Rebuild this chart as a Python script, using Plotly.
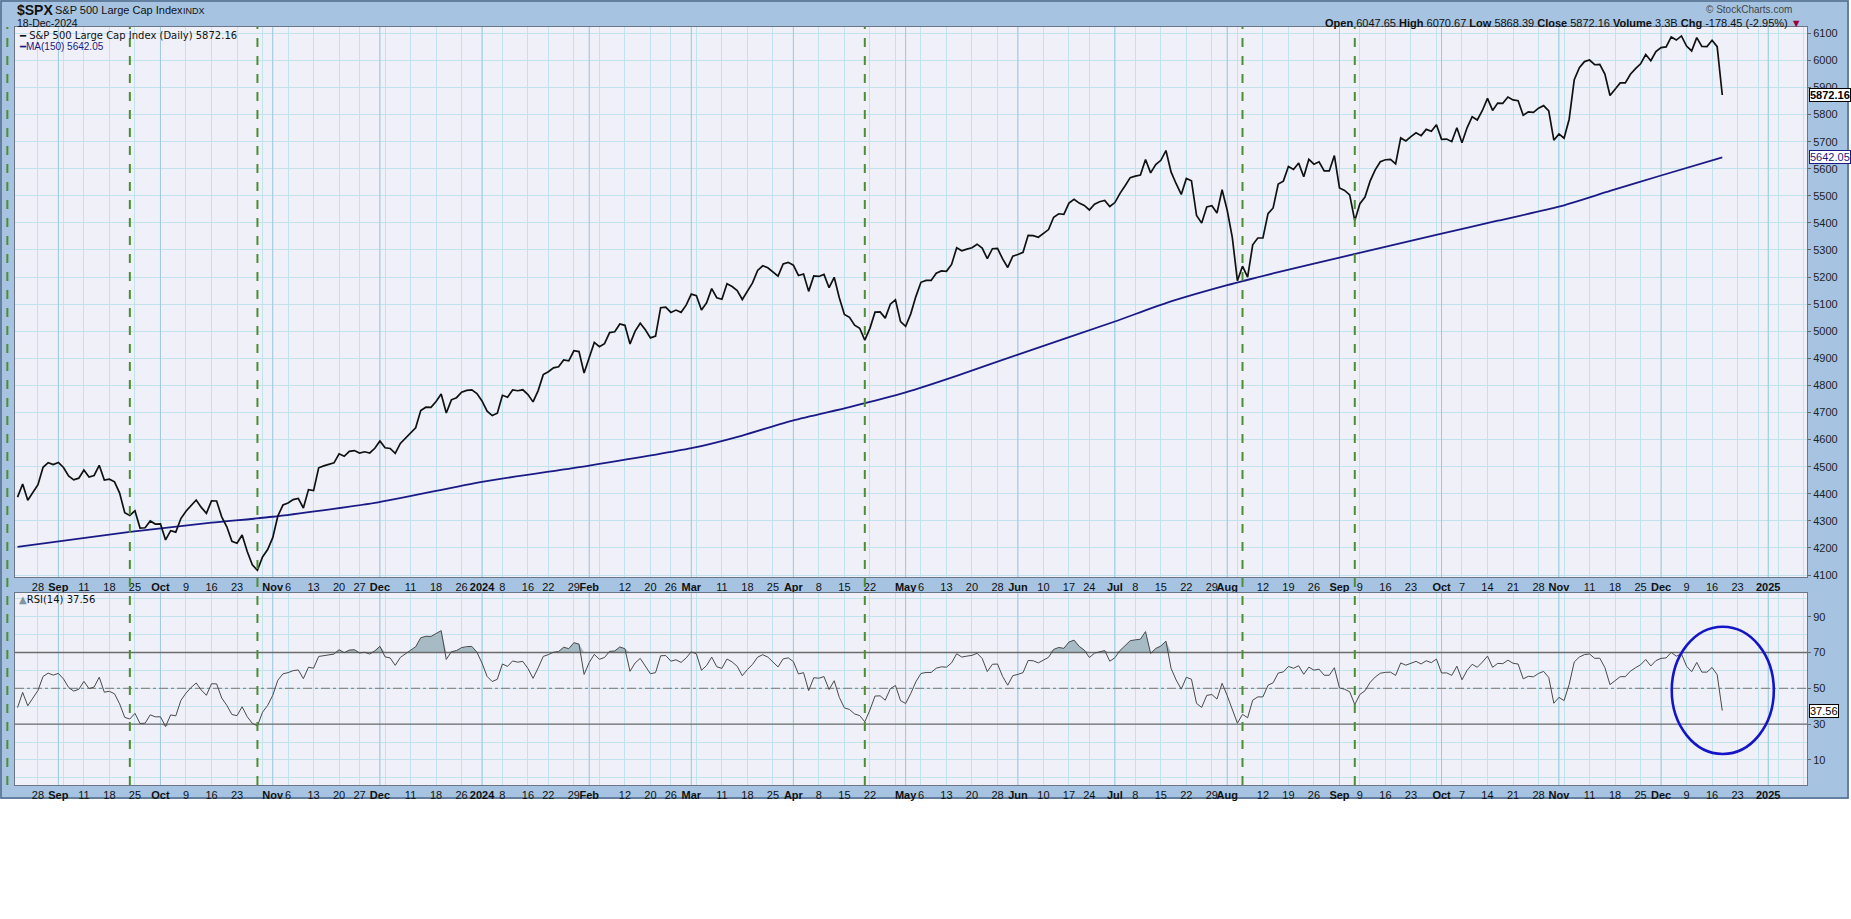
import numpy as np
import pandas as pd
import plotly.graph_objects as go

# ---------------- data ----------------
holidays = ["2023-06-19", "2023-07-04", "2023-09-04", "2023-11-23", "2023-12-25",
            "2024-01-01", "2024-01-15", "2024-02-19", "2024-03-29", "2024-05-27",
            "2024-06-19", "2024-07-04", "2024-09-02", "2024-11-28", "2024-12-25",
            "2025-01-01", "2025-01-20", "2025-02-17"]

# closes before the visible window (only used to warm up RSI(14))
warmup_close = [4221.02, 4282.37, 4273.79, 4283.85, 4267.52, 4293.93, 4298.86, 4338.93, 4369.01, 4372.59,
                4425.84, 4409.59, 4388.71, 4365.69, 4381.89, 4348.33, 4328.82, 4378.41, 4376.86, 4396.44,
                4450.38,
                4455.59, 4446.82, 4411.59, 4398.95, 4409.53, 4439.26, 4472.16, 4510.04, 4505.42, 4522.79,
                4554.98, 4565.72, 4534.87, 4536.34, 4554.64, 4567.46, 4566.75, 4537.41, 4582.23, 4588.96,
                4576.73, 4513.39, 4501.89, 4478.03, 4518.44, 4499.38, 4467.71, 4468.83, 4464.05, 4489.72,
                4437.86, 4404.33, 4370.36, 4369.71, 4399.77]

first_date = "2023-08-22"
close_2023 = [4387.55, 4436.01, 4376.31, 4405.71, 4433.31, 4497.63, 4514.87, 4507.66,
              4515.77, 4496.83, 4465.48, 4451.14, 4457.49, 4487.46, 4461.90, 4467.44, 4505.10, 4450.32,
              4453.53, 4443.95, 4402.20, 4330.00, 4320.06, 4337.44, 4273.53, 4274.51, 4299.70, 4288.05,
              4288.39, 4229.45, 4263.75, 4258.19, 4308.50, 4335.66, 4358.24, 4376.95, 4349.61, 4327.78,
              4373.63, 4373.20, 4314.60, 4278.00, 4224.16, 4217.04, 4247.68, 4186.77, 4137.23, 4117.37,
              4166.82, 4193.80,
              4237.86, 4317.78, 4358.34, 4365.98, 4378.38, 4382.78, 4347.35, 4415.24, 4411.55, 4495.70,
              4502.88, 4508.24, 4514.02, 4547.38, 4538.19, 4556.62, 4559.34, 4550.43, 4554.89, 4550.58,
              4567.80,
              4594.63, 4569.78, 4567.18, 4549.34, 4585.59, 4604.37, 4622.44, 4643.70, 4707.09, 4719.55,
              4719.19, 4740.56, 4768.37, 4698.35, 4746.75, 4754.63, 4774.75, 4781.58, 4783.35, 4769.83]

close_2024 = [4742.83, 4704.81, 4688.68, 4697.24, 4763.54, 4756.50, 4783.45, 4780.24, 4783.83, 4765.98,
              4739.21, 4780.94, 4839.81, 4850.43, 4864.60, 4868.55, 4894.16, 4890.97, 4927.93, 4924.97,
              4845.65,
              4906.19, 4958.61, 4942.81, 4954.23, 4995.06, 4997.91, 5026.61, 5021.84, 4953.17, 5000.62,
              5029.73, 5005.57, 4975.51, 4981.80, 5087.03, 5088.80, 5069.53, 5078.18, 5069.76, 5096.27,
              5137.08, 5130.95, 5078.65, 5104.76, 5157.36, 5123.69, 5117.94, 5175.27, 5165.31, 5150.48,
              5117.09, 5149.42, 5178.51, 5224.62, 5241.53, 5234.18, 5218.19, 5203.58, 5248.49, 5254.35,
              5243.77, 5205.81, 5211.49, 5147.21, 5204.34, 5202.39, 5209.91, 5160.64, 5199.06, 5123.41,
              5061.82, 5051.41, 5022.21, 5011.12, 4967.23, 5010.60, 5070.55, 5071.63, 5048.42, 5099.96,
              5116.17, 5035.69,
              5018.39, 5064.20, 5127.79, 5180.74, 5187.70, 5187.67, 5214.08, 5222.68, 5221.42, 5246.68,
              5308.15, 5297.10, 5303.27, 5308.13, 5321.41, 5307.01, 5267.84, 5304.72, 5306.04, 5266.95,
              5235.48, 5277.51,
              5283.40, 5291.34, 5354.03, 5352.96, 5346.99, 5360.79, 5375.32, 5421.03, 5433.74, 5431.60,
              5473.23, 5487.03, 5473.17, 5464.62, 5447.87, 5469.30, 5477.90, 5482.87, 5460.48,
              5475.09, 5509.01, 5537.02, 5567.19, 5572.85, 5576.98, 5633.91, 5584.54, 5615.35, 5631.22,
              5667.20, 5588.27, 5544.59, 5505.00, 5564.41, 5555.74, 5427.13, 5399.22, 5459.10, 5463.54,
              5436.44, 5522.30,
              5446.68, 5346.56, 5186.33, 5240.03, 5199.50, 5319.31, 5344.16, 5344.39, 5434.43, 5455.21,
              5543.22, 5554.25, 5608.25, 5597.12, 5620.85, 5570.64, 5634.61, 5616.84, 5625.80, 5592.18,
              5591.96, 5648.40,
              5528.93, 5520.07, 5503.41, 5408.42, 5471.05, 5495.52, 5554.13, 5595.76, 5626.02, 5633.09,
              5634.58, 5618.26, 5713.64, 5702.55, 5718.57, 5732.93, 5722.26, 5745.37, 5738.17, 5762.48,
              5708.75, 5709.54, 5699.94, 5751.07, 5695.94, 5751.13, 5792.04, 5780.05, 5815.03, 5859.85,
              5815.26, 5842.47, 5841.47, 5864.67, 5853.98, 5851.20, 5797.42, 5809.86, 5808.12, 5823.52,
              5832.92, 5813.67, 5705.45,
              5728.80, 5712.69, 5782.76, 5929.04, 5973.10, 5995.54, 6001.35, 5983.99, 5985.38, 5949.17,
              5870.62, 5893.62, 5916.98, 5917.11, 5948.71, 5969.34, 5987.37, 6021.63, 5998.74, 6032.38,
              6047.15, 6049.88, 6086.49, 6075.11, 6090.27, 6052.85, 6034.91, 6084.19, 6051.25, 6051.09,
              6074.08, 6050.61, 5872.16]

# MA(150)
ma_dates = ["2023-08-22", "2023-09-22", "2023-10-16", "2023-11-01", "2023-11-30", "2024-01-02",
            "2024-02-01", "2024-03-01", "2024-03-15", "2024-04-01", "2024-04-16", "2024-05-01",
            "2024-05-15", "2024-06-03", "2024-07-01", "2024-07-16", "2024-08-01", "2024-08-15",
            "2024-09-03", "2024-10-01", "2024-10-16", "2024-11-01", "2024-11-15", "2024-12-02",
            "2024-12-18"]
ma_values = [4204, 4259, 4293, 4315, 4366, 4444,
             4504, 4568, 4615, 4671, 4720, 4774,
             4835, 4914, 5036, 5104, 5170, 5218,
             5272, 5360, 5408, 5460, 5518, 5575,
             5642.05]

marker_dates = ["2023-08-18", "2023-09-22", "2023-10-27", "2024-04-19", "2024-08-06", "2024-09-06"]

price_ticks = list(range(4100, 6101, 100))
rsi_ticks = [10, 30, 50, 70, 90]
last_close, last_ma, last_rsi = 5872.16, 5642.05, 37.56

# ---------------- calendar / positions ----------------
cal = pd.bdate_range("2023-06-01", "2025-02-28", freq="C", holidays=holidays)
pos = {d: n for n, d in enumerate(cal)}
off = pos[pd.Timestamp(first_date)]


def xi(d):
    return pos[pd.Timestamp(d)] - off


closes = close_2023 + close_2024
x_price = list(range(len(closes)))

# RSI(14), Wilder smoothing
allc = np.array(warmup_close + closes, dtype=float)
dlt = np.diff(allc)
gain = np.clip(dlt, 0, None)
loss = np.clip(-dlt, 0, None)
n = 14
ag, al = gain[:n].mean(), loss[:n].mean()
rsi_all = [np.nan] * n + [100 - 100 / (1 + ag / al)]
for j in range(n, len(dlt)):
    ag = (ag * (n - 1) + gain[j]) / n
    al = (al * (n - 1) + loss[j]) / n
    rsi_all.append(100 - 100 / (1 + ag / al))
rsi_all = np.array(rsi_all)
rsi = rsi_all[-len(closes):]

x_ma = [xi(d) for d in ma_dates]

# ---------------- geometry ----------------
W, H = 1851, 919
ML, MR, MT, MB = 15, 44, 27, 134
PW, PH = W - ML - MR, H - MT - MB
xr = [-0.5, 350.6]
yr_main = [4092.6, 6123.3]
yr_rsi = [-3.96, 103.2]
main_dom = [(785 - 577) / PH, 1.0]
rsi_dom = [0.0, (785 - 593) / PH]


def px(xp):
    return (xp - ML) / PW


def py(yp):
    return (MT + PH - yp) / PH


def xpaper(i):
    return (i - xr[0]) / (xr[1] - xr[0])


# ticks
iso = [tuple(d.isocalendar())[:2] for d in cal]
week_starts = [k for k in range(1, len(cal)) if iso[k] != iso[k - 1]]
month_starts = [k for k in range(1, len(cal)) if cal[k].month != cal[k - 1].month]
ms_arr = np.array(month_starts)
tick_map = {}
for k in month_starts:
    d = cal[k]
    tick_map[k] = f"<b>{d.year}</b>" if d.month == 1 else f"<b>{d.strftime('%b')}</b>"
for k in week_starts:
    if k in tick_map:
        continue
    tick_map[k] = "" if np.min(np.abs(ms_arr - k)) <= 2 else str(cal[k].day)
tickvals, ticktext = [], []
for k in sorted(tick_map):
    x = k - off
    if xr[0] <= x <= xr[1]:
        tickvals.append(x)
        ticktext.append(tick_map[k] if x < xr[1] - 2 else "")
month_x = [k - off for k in month_starts if xr[0] <= k - off <= xr[1]]

# ---------------- colors ----------------
FRAME = "#a6c4e2"
PLOTBG = "#eff0f8"
GRID = "#c2e2ee"
MGRID = "#9fc9e2"
FONT = "Liberation Sans, Arial, sans-serif"

fig = go.Figure()


def vlines(xs, y0, y1):
    xx, yy = [], []
    for v in xs:
        xx += [v, v, None]
        yy += [y0, y1, None]
    return xx, yy


mx, my = vlines(month_x, yr_main[0], yr_main[1])
fig.add_trace(go.Scatter(x=mx, y=my, mode="lines", line=dict(color=MGRID, width=1),
                         xaxis="x", yaxis="y", hoverinfo="skip"))
mx2, my2 = vlines(month_x, yr_rsi[0], yr_rsi[1])
fig.add_trace(go.Scatter(x=mx2, y=my2, mode="lines", line=dict(color=MGRID, width=1),
                         xaxis="x2", yaxis="y2", hoverinfo="skip"))

# MA and price
fig.add_trace(go.Scatter(x=x_ma, y=ma_values, mode="lines",
                         line=dict(color="#1a1a86", width=1.8, shape="spline", smoothing=0.6),
                         xaxis="x", yaxis="y"))
fig.add_trace(go.Scatter(x=x_price, y=closes, mode="lines", line=dict(color="#111111", width=1.7),
                         xaxis="x", yaxis="y"))

# RSI fills
fig.add_trace(go.Scatter(x=x_price, y=[70] * len(x_price), mode="lines", line=dict(width=0),
                         xaxis="x2", yaxis="y2"))
fig.add_trace(go.Scatter(x=x_price, y=np.maximum(rsi, 70), mode="lines", line=dict(width=0),
                         fill="tonexty", fillcolor="#a6bbc4", xaxis="x2", yaxis="y2"))
fig.add_trace(go.Scatter(x=x_price, y=[30] * len(x_price), mode="lines", line=dict(width=0),
                         xaxis="x2", yaxis="y2"))
fig.add_trace(go.Scatter(x=x_price, y=np.minimum(rsi, 30), mode="lines", line=dict(width=0),
                         fill="tonexty", fillcolor="#a6bbc4", xaxis="x2", yaxis="y2"))
for lvl, dash, col in [(70, "solid", "#6c6c6c"), (30, "solid", "#6c6c6c"), (50, "dashdot", "#8c8c8c")]:
    fig.add_trace(go.Scatter(x=xr, y=[lvl, lvl], mode="lines", line=dict(color=col, width=1.3, dash=dash),
                             xaxis="x2", yaxis="y2"))
fig.add_trace(go.Scatter(x=x_price, y=rsi, mode="lines", line=dict(color="#4a4a4a", width=1),
                         xaxis="x2", yaxis="y2"))

shapes = []
# white area below frame
shapes.append(dict(type="rect", xref="paper", yref="paper", x0=px(-10), x1=px(W + 10),
                   y0=py(H + 10), y1=py(799), fillcolor="white", line=dict(width=0), layer="below"))
shapes.append(dict(type="rect", xref="paper", yref="paper", x0=px(1849), x1=px(W + 10),
                   y0=py(H + 10), y1=py(-10), fillcolor="white", line=dict(width=0), layer="below"))
shapes.append(dict(type="rect", xref="paper", yref="paper", x0=px(1), x1=px(1848),
                   y0=py(798), y1=py(1), line=dict(color="#4f6a8c", width=1.5), layer="below"))
# green marker lines
for d in marker_dates:
    xp = xpaper(xi(d))
    shapes.append(dict(type="line", xref="paper", yref="paper", x0=xp, x1=xp, y0=0, y1=1,
                       line=dict(color="#4e8e32", width=2, dash="dash"), layer="above"))
# ellipse
shapes.append(dict(type="circle", xref="x2", yref="y2", x0=324.1, x1=344.1, y0=13.35, y1=84.4,
                   line=dict(color="#1515c8", width=2.6)))

ann = []


def txt(x, y, s, size, color="#111", anchor="left", fam=FONT, **kw):
    ann.append(dict(x=px(x), y=py(y), xref="paper", yref="paper", text=s, showarrow=False,
                    xanchor=anchor, yanchor="middle", font=dict(size=size, color=color, family=fam), **kw))


txt(15, 10, "<b>$SPX</b>", 14)
txt(53, 10, "S&P 500 Large Cap Index", 11)
txt(181, 10.5, "INDX", 9)
txt(15, 23, "18-Dec-2024", 10.5)
txt(1794, 9.5, "© StockCharts.com", 10, color="#444", anchor="right")
txt(1804, 22.5, "<b>Open</b> 6047.65 <b>High</b> 6070.67 <b>Low</b> 5868.39 <b>Close</b> 5872.16 "
    "<b>Volume</b> 3.3B <b>Chg</b> -178.45 (-2.95%) <span style='color:#a0003a'>▼</span>", 11,
    anchor="right")
txt(17, 35.5, "━ S&P 500 Large Cap Index (Daily) 5872.16", 10, fam="DejaVu Sans, sans-serif")
txt(17, 46.5, "<span style='color:#1a1a86'>━</span>MA(150) 5642.05", 10, color="#1a1a86")
txt(17, 599, "<span style='color:#7d96a0'>▲</span>RSI(14) 37.56", 10, fam="DejaVu Sans, sans-serif")

# value tags
for val, yref, col, bold in [(last_close, "y", "#000000", True), (last_ma, "y", "#1a1a86", False),
                             (last_rsi, "y2", "#000000", False)]:
    s = f"{val:.2f}"
    ann.append(dict(x=1.0, xref="paper", y=val, yref=yref, text=f"<b>{s}</b>" if bold else s,
                    showarrow=False, xanchor="left", yanchor="middle", xshift=2,
                    font=dict(size=11, color=col, family=FONT), bgcolor="white",
                    bordercolor=col, borderwidth=1, borderpad=0))

axis_common = dict(showline=True, mirror=True, linecolor="#6b7786", linewidth=1, zeroline=False)
xax = dict(range=xr, tickvals=tickvals, ticktext=ticktext, ticks="", showgrid=True, gridcolor=GRID,
           gridwidth=1, tickangle=0, tickfont=dict(size=11, color="#111", family=FONT), **axis_common)

fig.update_layout(
    width=W, height=H, margin=dict(l=ML, r=MR, t=MT, b=MB, pad=0),
    paper_bgcolor=FRAME, plot_bgcolor=PLOTBG, showlegend=False, hovermode=False,
    xaxis=dict(domain=[0, 1], anchor="y", **xax),
    xaxis2=dict(domain=[0, 1], anchor="y2", matches="x", **xax),
    yaxis=dict(domain=main_dom, anchor="x", side="right", range=yr_main, tickvals=price_ticks,
               showgrid=True, gridcolor=GRID, ticks="outside", ticklen=3, tickcolor="#666",
               tickfont=dict(size=11, color="#222", family=FONT), **axis_common),
    yaxis2=dict(domain=rsi_dom, anchor="x2", side="right", range=yr_rsi, tickvals=rsi_ticks,
                showgrid=True, gridcolor=GRID, ticks="outside", ticklen=3, tickcolor="#666",
                minor=dict(tickvals=[0, 20, 40, 60, 80, 100], showgrid=True, gridcolor=GRID),
                tickfont=dict(size=11, color="#222", family=FONT), **axis_common),
    shapes=shapes, annotations=ann,
)

fig.write_html("out.html", config={"displayModeBar": False, "staticPlot": True},
               post_script="document.body.style.margin='0';")
